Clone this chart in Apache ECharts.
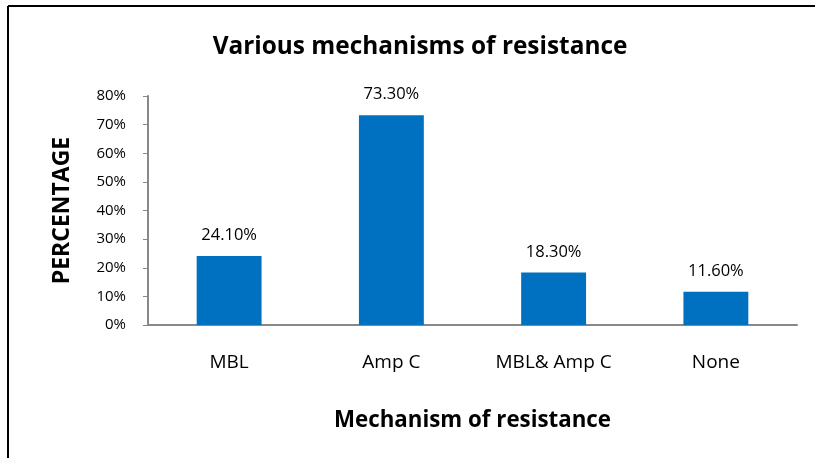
<!DOCTYPE html>
<html><head><meta charset="utf-8">
<script src="https://cdn.jsdelivr.net/npm/echarts@6/dist/echarts.min.js"></script>
<style>html,body{margin:0;padding:0;background:#fff}#c{width:815px;height:458px}</style>
</head><body><div id="c"></div>
<script>
const categories = ['MBL', 'Amp C', 'MBL& Amp C', 'None'];
const values = [24.1, 73.3, 18.3, 11.6];
const yTicks = [0, 10, 20, 30, 40, 50, 60, 70, 80];
const FONT = '"Open Sans", sans-serif';
const chart = echarts.init(document.getElementById('c'), null, {renderer: 'canvas'});
chart.setOption({
  animation: false,
  backgroundColor: '#fff',
  title: {
    text: 'Various mechanisms of resistance',
    left: 415, top: 30, textAlign: 'center',
    textStyle: {fontFamily: FONT, fontWeight: 'bold', fontSize: 24.4, color: '#000'}
  },
  graphic: [
    {type: 'line', shape: {x1: 8, y1: 6, x2: 815, y2: 6}, style: {stroke: '#000', lineWidth: 2}},
    {type: 'line', shape: {x1: 8, y1: 6, x2: 8, y2: 458}, style: {stroke: '#000', lineWidth: 2}}
  ],
  grid: {left: 148, right: 18, top: 96, bottom: 133, containLabel: false},
  xAxis: {
    type: 'category', data: categories,
    name: 'Mechanism of resistance', nameLocation: 'middle', nameGap: 85,
    nameTextStyle: {fontFamily: FONT, fontWeight: 'bold', fontSize: 22.3, color: '#000'},
    axisLine: {lineStyle: {color: '#888', width: 2}},
    axisTick: {show: false},
    axisLabel: {fontFamily: FONT, fontSize: 19, color: '#000', margin: 28}
  },
  yAxis: {
    type: 'value', min: yTicks[0], max: yTicks[yTicks.length - 1], interval: 10,
    name: 'PERCENTAGE', nameLocation: 'middle', nameGap: 74, nameRotate: 90,
    nameTextStyle: {fontFamily: FONT, fontWeight: 'bold', fontSize: 23, color: '#000'},
    axisLine: {show: true, lineStyle: {color: '#888', width: 2}},
    axisTick: {show: true, length: 5, lineStyle: {color: '#888', width: 1}},
    splitLine: {show: false},
    axisLabel: {fontFamily: FONT, fontSize: 15, color: '#000', margin: 22, formatter: '{value}%'}
  },
  series: [{
    type: 'bar', data: values, barWidth: '40%',
    itemStyle: {color: '#0070C0'},
    label: {show: true, position: 'top', distance: 12, fontFamily: FONT, fontSize: 16.5, color: '#000',
      formatter: p => p.value.toFixed(2) + '%'}
  }]
});
</script></body></html>
